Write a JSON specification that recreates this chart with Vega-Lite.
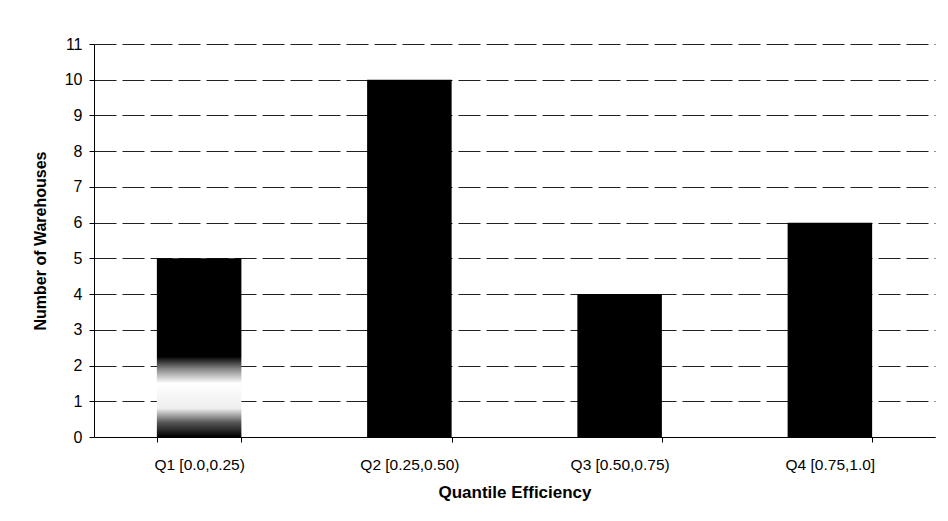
{
  "$schema": "https://vega.github.io/schema/vega-lite/v6.json",
  "width": 841,
  "height": 393,
  "autosize": {"type": "none"},
  "padding": {"left": 94, "top": 44, "right": 13, "bottom": 84},
  "background": "white",
  "config": {
    "view": {"stroke": null},
    "font": "Liberation Sans",
    "axis": {"domainColor": "black", "tickColor": "black", "labelColor": "black", "titleColor": "black", "labelFont": "Liberation Sans", "titleFont": "Liberation Sans"}
  },
  "data": {"values": [
    {"q": "Q1 [0.0,0.25)", "n": 5},
    {"q": "Q2 [0.25,0.50)", "n": 10},
    {"q": "Q3 [0.50,0.75)", "n": 4},
    {"q": "Q4 [0.75,1.0]", "n": 6}
  ]},
  "encoding": {
    "x": {"field": "q", "type": "nominal",
      "scale": {"domain": ["Q1 [0.0,0.25)", "Q2 [0.25,0.50)", "Q3 [0.50,0.75)", "Q4 [0.75,1.0]"], "paddingInner": 0.598, "paddingOuter": 0.299},
      "axis": {"title": "Quantile Efficiency", "labelAngle": 0, "labelFontSize": 15.5, "labelPadding": 15, "tickBand": "extent", "tickSize": 5, "titleFontSize": 17, "titleFontWeight": "bold", "titlePadding": 12, "grid": false}},
    "y": {"field": "n", "type": "quantitative",
      "scale": {"domain": [0, 11], "nice": false},
      "axis": {"title": "Number of Warehouses", "values": [0,1,2,3,4,5,6,7,8,9,10,11], "labelFontSize": 16, "labelPadding": 7, "tickSize": 5, "titleFontSize": 16, "titleFontWeight": "bold", "titlePadding": 16, "grid": true, "gridColor": "#222", "gridDash": [22, 6], "gridWidth": 1}}
  },
  "layer": [
    {"transform": [{"filter": "datum.q !== 'Q1 [0.0,0.25)'"}], "mark": {"type": "bar", "color": "black"}},
    {"transform": [{"filter": "datum.q === 'Q1 [0.0,0.25)'"}], "mark": {"type": "bar", "color": {"gradient": "linear", "x1": 0, "y1": 0, "x2": 0, "y2": 1, "stops": [
      {"offset": 0, "color": "black"}, {"offset": 0.55, "color": "black"}, {"offset": 0.62, "color": "#888"}, {"offset": 0.7, "color": "white"}, {"offset": 0.84, "color": "#eee"}, {"offset": 0.92, "color": "#555"}, {"offset": 1, "color": "black"}]}}}
  ]
}
